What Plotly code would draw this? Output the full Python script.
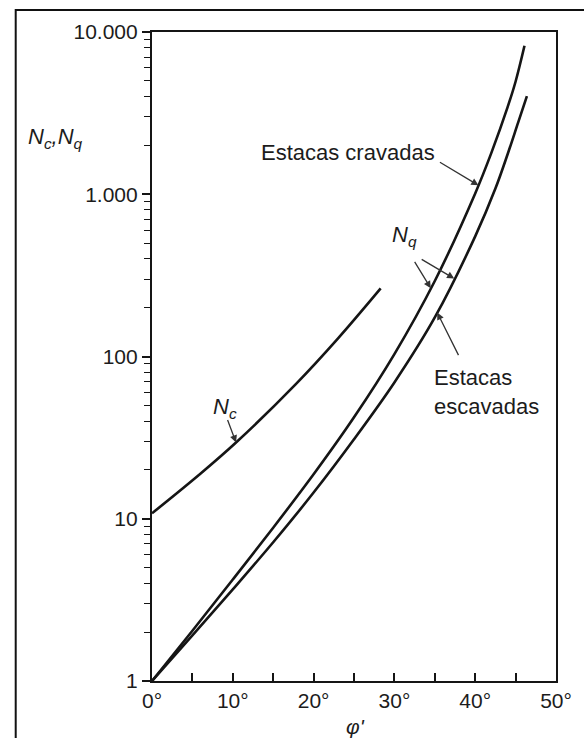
import numpy as np
import plotly.graph_objects as go

# ---- data ----
phi_driven = [0, 5, 10, 15, 20, 25, 30, 35, 40, 42, 44, 45, 46.1]
nq_driven = [1.0, 2.04, 4.22, 8.81, 18.8, 42.2, 103.5, 292, 1012, 1799, 3428, 4955, 8222]

phi_bored = [0, 5, 10, 15, 20, 25, 30, 35, 40, 42.5, 44, 45.3, 46.4]
nq_bored = [1.0, 1.91, 3.67, 7.16, 14.5, 30.9, 69.2, 174, 550, 1084, 1758, 2754, 4027]

phi_nc = [0, 5.8, 10.4, 17.8, 23.0, 28.3]
nc_vals = [10.8, 18.6, 29.5, 67.6, 129, 263]

x_tickvals = [0, 5, 10, 15, 20, 25, 30, 35, 40, 45, 50]
x_ticktext = ["0°", "", "10°", "", "20°", "", "30°", "", "40°", "", "50°"]
y_tickvals = [1, 10, 100, 1000, 10000]
y_ticktext = ["1", "10", "100", "1.000", "10.000"]

# ---- layout geometry (pixels) ----
W, H = 584, 738
L, R, T, B = 152, 567, 32, 681
PW, PH = R - L, B - T
FONT = "Liberation Sans, Arial, sans-serif"
TXT = "#1c1c1c"
LINE = "#151515"

def px_data(xp, yp):
    return (xp - L) / PW * 50.0, (B - yp) / PH * 4.0

def px_paper(xp, yp):
    return (xp - L) / PW, (B - yp) / PH

fig = go.Figure()
for xs, ys in [(phi_driven, nq_driven), (phi_bored, nq_bored), (phi_nc, nc_vals)]:
    fig.add_trace(go.Scatter(x=xs, y=ys, mode="lines",
                             line=dict(color=LINE, width=2.6, shape="spline", smoothing=1.0),
                             showlegend=False, hoverinfo="skip"))

def on_curve(phis, vals, phi):
    return phi, float(np.interp(phi, phis, np.log10(vals)))

annotations = []

def text_ann(text, xp, yp, size=22, xanchor="center", align="center"):
    x, y = px_data(xp, yp)
    annotations.append(dict(x=x, y=y, xref="x", yref="y", text=text, showarrow=False,
                            xanchor=xanchor, yanchor="middle", align=align,
                            font=dict(family=FONT, size=size, color=TXT)))

def arrow_ann(head, ax, ay):
    annotations.append(dict(x=head[0], y=head[1], xref="x", yref="y", text="",
                            showarrow=True, ax=ax, ay=ay, arrowhead=2, arrowsize=1.1,
                            arrowwidth=1.3, arrowcolor="#333333", standoff=0, startstandoff=0))

# labels
text_ann("Estacas cravadas", 353, 152)
text_ann("Estacas<br>escavadas", 440, 392, xanchor="left", align="left")
text_ann("<i>N<sub>q</sub></i>", 411, 236)
text_ann("<i>N<sub>c</sub></i>", 227, 408)

# arrows
arrow_ann(on_curve(phi_driven, nq_driven, 40.4), -40, -24)
arrow_ann(on_curve(phi_driven, nq_driven, 34.5), -17, -28)
arrow_ann(on_curve(phi_bored, nq_bored, 37.4), -34, -20)
arrow_ann(on_curve(phi_bored, nq_bored, 35.3), 22, 44)
arrow_ann(on_curve(phi_nc, nc_vals, 10.4), -9, -24)

# axis titles
xp, yp = px_paper(53, 138)
annotations.append(dict(x=xp, y=yp, xref="paper", yref="paper", showarrow=False,
                        xanchor="center", yanchor="middle",
                        text="<i>N<sub>c</sub>,N<sub>q</sub></i>",
                        font=dict(family=FONT, size=22, color=TXT)))
xp, yp = px_paper(361, 726)
annotations.append(dict(x=xp, y=yp, xref="paper", yref="paper", showarrow=False,
                        xanchor="center", yanchor="middle",
                        text="<i>φ'</i>", font=dict(family=FONT, size=21, color=TXT)))

# outer border (extends past the right/bottom edges of the picture)
x0, y1 = px_paper(12, 10)
x1, y0 = px_paper(600, 760)
shapes = [dict(type="rect", xref="paper", yref="paper", x0=x0, x1=x1, y0=y0, y1=y1,
               line=dict(color="#111111", width=2))]

minor_vals = [m * 10 ** k for k in range(4) for m in range(2, 10)]

fig.update_layout(
    width=W, height=H,
    margin=dict(l=L, r=W - R, t=T, b=H - B),
    paper_bgcolor="white", plot_bgcolor="white",
    annotations=annotations, shapes=shapes,
    xaxis=dict(range=[0, 50], tickmode="array", tickvals=x_tickvals, ticktext=x_ticktext,
               ticks="inside", ticklen=8, tickwidth=1.5, tickcolor=LINE,
               showline=True, linewidth=2.2, linecolor=LINE, mirror=True,
               showgrid=False, zeroline=False,
               tickfont=dict(family=FONT, size=21, color=TXT)),
    yaxis=dict(type="log", range=[0, 4], tickmode="array", tickvals=y_tickvals, ticktext=y_ticktext,
               ticks="outside", ticklen=8, tickwidth=1.5, tickcolor=LINE,
               minor=dict(tickvals=minor_vals, ticks="outside", ticklen=6, tickwidth=1.2, tickcolor=LINE),
               showline=True, linewidth=2.2, linecolor=LINE, mirror=True,
               showgrid=False, zeroline=False,
               tickfont=dict(family=FONT, size=21, color=TXT)),
)

fig.write_html("out.html")
